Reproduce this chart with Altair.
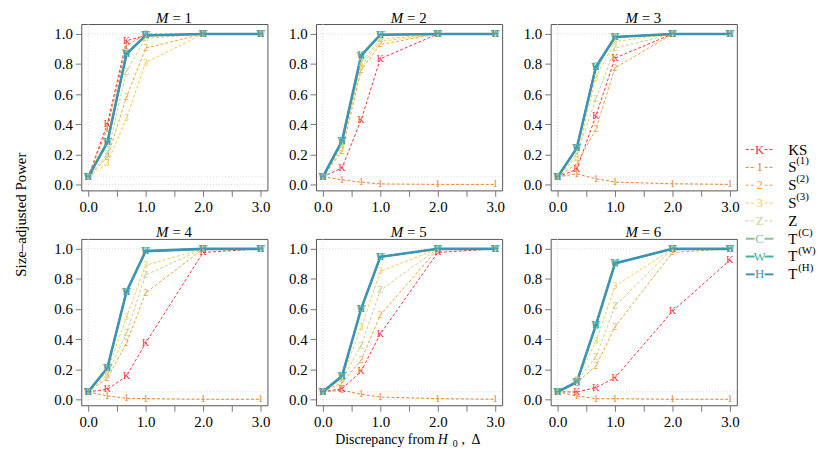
import altair as alt
import pandas as pd

FONT = "Liberation Serif, Times New Roman, Times, serif"

DELTA = [0.0, 1 / 3, 2 / 3, 1.0, 2.0, 3.0]
SERIES = ["KS", "S1", "S2", "S3", "Z", "TC", "TW", "TH"]
LETTERS = ["K", "1", "2", "3", "Z", "C", "W", "H"]
COLORS = ["#F8333C", "#E8822A", "#F0A53A", "#F5CB4A", "#C9CE8F", "#86C495", "#45B29D", "#3C95B0"]
DASHED = [True, True, True, True, True, False, False, False]
WIDTHS = [1.0, 1.0, 1.0, 1.0, 1.0, 1.6, 1.6, 2.6]
LEG_BASE = ["KS", "S", "S", "S", "Z", "T", "T", "T"]
LEG_SUP = ["", "(1)", "(2)", "(3)", "", "(C)", "(W)", "(H)"]
X_TICKS = [0.0, 0.5, 1.0, 1.5, 2.0, 2.5, 3.0]
Y_TICKS = [0.0, 0.2, 0.4, 0.6, 0.8, 1.0]
REF_Y = [0.0, 0.05, 1.0]
REF_X = [0.0]
PANELS = [1, 2, 3, 4, 5, 6]

POWER_M1 = {
    "KS": [0.05, 0.40, 0.955, 0.99, 1.0, 1.0],
    "S1": [0.05, 0.37, 0.92, 1.0, 1.0, 1.0],
    "S2": [0.05, 0.18, 0.58, 0.905, 1.0, 1.0],
    "S3": [0.05, 0.14, 0.44, 0.81, 1.0, 1.0],
    "Z": [0.05, 0.20, 0.75, 0.97, 1.0, 1.0],
    "TC": [0.05, 0.27, 0.87, 0.99, 1.0, 1.0],
    "TW": [0.05, 0.28, 0.87, 0.99, 1.0, 1.0],
    "TH": [0.05, 0.28, 0.866, 0.99, 1.0, 1.0],
}
POWER_M2 = {
    "KS": [0.05, 0.11, 0.43, 0.835, 1.0, 1.0],
    "S1": [0.05, 0.03, 0.015, 0.003, 0.0, 0.0],
    "S2": [0.05, 0.22, 0.76, 0.93, 1.0, 1.0],
    "S3": [0.05, 0.24, 0.79, 0.95, 1.0, 1.0],
    "Z": [0.05, 0.26, 0.81, 0.965, 1.0, 1.0],
    "TC": [0.05, 0.28, 0.855, 0.995, 1.0, 1.0],
    "TW": [0.05, 0.29, 0.855, 0.995, 1.0, 1.0],
    "TH": [0.05, 0.29, 0.857, 0.995, 1.0, 1.0],
}
POWER_M3 = {
    "KS": [0.05, 0.10, 0.455, 0.84, 1.0, 1.0],
    "S1": [0.05, 0.07, 0.037, 0.015, 0.004, 0.0],
    "S2": [0.05, 0.136, 0.367, 0.774, 1.0, 1.0],
    "S3": [0.05, 0.18, 0.71, 0.95, 1.0, 1.0],
    "Z": [0.05, 0.20, 0.565, 0.905, 1.0, 1.0],
    "TC": [0.05, 0.24, 0.79, 0.98, 1.0, 1.0],
    "TW": [0.05, 0.24, 0.78, 0.98, 1.0, 1.0],
    "TH": [0.05, 0.24, 0.778, 0.98, 1.0, 1.0],
}
POWER_M4 = {
    "KS": [0.05, 0.066, 0.154, 0.373, 0.976, 1.0],
    "S1": [0.05, 0.022, 0.007, 0.004, 0.0, 0.0],
    "S2": [0.05, 0.14, 0.373, 0.706, 1.0, 1.0],
    "S3": [0.05, 0.186, 0.548, 0.89, 1.0, 1.0],
    "Z": [0.05, 0.164, 0.44, 0.825, 1.0, 1.0],
    "TC": [0.05, 0.205, 0.715, 0.985, 1.0, 1.0],
    "TW": [0.05, 0.208, 0.715, 0.985, 1.0, 1.0],
    "TH": [0.05, 0.208, 0.715, 0.985, 1.0, 1.0],
}
POWER_M5 = {
    "KS": [0.05, 0.07, 0.186, 0.434, 0.976, 1.0],
    "S1": [0.05, 0.06, 0.033, 0.015, 0.004, 0.0],
    "S2": [0.05, 0.11, 0.26, 0.56, 1.0, 1.0],
    "S3": [0.05, 0.143, 0.478, 0.85, 1.0, 1.0],
    "Z": [0.05, 0.132, 0.355, 0.724, 1.0, 1.0],
    "TC": [0.05, 0.15, 0.60, 0.945, 1.0, 1.0],
    "TW": [0.05, 0.154, 0.603, 0.947, 1.0, 1.0],
    "TH": [0.05, 0.154, 0.603, 0.947, 1.0, 1.0],
}
POWER_M6 = {
    "KS": [0.05, 0.048, 0.077, 0.143, 0.585, 0.925],
    "S1": [0.05, 0.022, 0.004, 0.004, 0.0, 0.0],
    "S2": [0.05, 0.11, 0.22, 0.482, 0.976, 1.0],
    "S3": [0.05, 0.127, 0.384, 0.752, 1.0, 1.0],
    "Z": [0.05, 0.12, 0.28, 0.62, 1.0, 1.0],
    "TC": [0.05, 0.11, 0.49, 0.90, 1.0, 1.0],
    "TW": [0.05, 0.114, 0.493, 0.904, 1.0, 1.0],
    "TH": [0.05, 0.114, 0.493, 0.904, 1.0, 1.0],
}
POWER = {1: POWER_M1, 2: POWER_M2, 3: POWER_M3, 4: POWER_M4, 5: POWER_M5, 6: POWER_M6}

rows = []
for m in PANELS:
    for s, letter in zip(SERIES, LETTERS):
        for xv, yv in zip(DELTA, POWER[m][s]):
            rows.append({"M": m, "series": s, "letter": letter, "x": xv, "y": yv})
df = pd.DataFrame(rows)

W, H = 188, 168
xs = alt.Scale(domain=[-0.12, 3.12], nice=False, zero=False)
ys = alt.Scale(domain=[-0.04, 1.066], nice=False, zero=False)
xaxis = alt.Axis(values=X_TICKS, title=None,
                 labelExpr="datum.value % 1 == 0 ? format(datum.value, '.1f') : ''")
yaxis = alt.Axis(values=Y_TICKS, format=".1f", title=None)


def xenc(f):
    return alt.X(f, type="quantitative", scale=xs, axis=xaxis)


def yenc(f):
    return alt.Y(f, type="quantitative", scale=ys, axis=yaxis)


def text_layer(txt, x, y, size=15, style="normal", align="left", angle=0):
    mk = dict(font=FONT, fontSize=size, align=align, baseline="alphabetic", color="black")
    if style != "normal":
        mk["fontStyle"] = style
    if angle:
        mk["angle"] = angle
        mk["baseline"] = "middle"
        mk["align"] = "center"
    return alt.Chart(pd.DataFrame({"t": [txt]})).mark_text(**mk).encode(
        x=alt.value(x), y=alt.value(y), text="t:N")


def legend_layer():
    leg = pd.DataFrame({"series": SERIES, "letter": LETTERS, "base": LEG_BASE,
                        "sup": LEG_SUP, "idx": list(range(len(SERIES)))})
    ly = alt.Y("idx:Q", scale=alt.Scale(domain=[-7.04, 2.29], reverse=True, nice=False, zero=False),
               axis=None)
    layers = []
    for s, c, dsh, w in zip(SERIES, COLORS, DASHED, WIDTHS):
        kw = dict(color=c, strokeWidth=(1.0 if dsh else 2.0))
        if dsh:
            kw["strokeDash"] = [3, 2]
        base = alt.Chart(leg).transform_filter(alt.datum.series == s)
        layers.append(base.mark_rule(**kw).encode(x=alt.value(197), x2=alt.value(206), y=ly))
        layers.append(base.mark_rule(**kw).encode(x=alt.value(216), x2=alt.value(225), y=ly))
        layers.append(base.mark_text(color=c, font=FONT, fontSize=13, baseline="middle", align="center")
                      .encode(x=alt.value(211), y=ly, text="letter:N"))
    layers.append(alt.Chart(leg).mark_text(font=FONT, fontSize=15, baseline="middle", align="left",
                                           color="black")
                  .encode(x=alt.value(240), y=ly, text="base:N"))
    layers.append(alt.Chart(leg).transform_filter(alt.datum.base == "S")
                  .mark_text(font=FONT, fontSize=11, baseline="middle", align="left", dy=-6, color="black")
                  .encode(x=alt.value(248), y=ly, text="sup:N"))
    layers.append(alt.Chart(leg).transform_filter(alt.datum.base == "T")
                  .mark_text(font=FONT, fontSize=11, baseline="middle", align="left", dy=-6, color="black")
                  .encode(x=alt.value(250), y=ly, text="sup:N"))
    return alt.layer(*layers)


def panel(m):
    dm = df[df.M == m]
    refstyle = dict(color="#cccccc", strokeDash=[1, 2], strokeWidth=0.8)
    layers = [
        alt.Chart(pd.DataFrame({"r": REF_Y})).mark_rule(**refstyle).encode(y=yenc("r")),
        alt.Chart(pd.DataFrame({"r": REF_X})).mark_rule(**refstyle).encode(x=xenc("r")),
    ]
    for s, c, dsh, w in zip(SERIES, COLORS, DASHED, WIDTHS):
        kw = dict(color=c, strokeWidth=w)
        if dsh:
            kw["strokeDash"] = [3, 2]
        layers.append(alt.Chart(dm).transform_filter(alt.datum.series == s)
                      .mark_line(**kw).encode(x=xenc("x"), y=yenc("y")))
    for s, c in zip(SERIES, COLORS):
        layers.append(alt.Chart(dm).transform_filter(alt.datum.series == s)
                      .mark_text(color=c, font=FONT, fontSize=10, baseline="middle", align="center")
                      .encode(x=xenc("x"), y=yenc("y"), text="letter:N"))
    layers.append(text_layer("M", 88, -1.5, style="italic", align="right"))
    layers.append(text_layer(f"= {m}", 92, -1.5))
    if m == 1:
        layers.append(text_layer("Size\u2013adjusted Power", -61, 192.5, size=15, angle=270))
    if m == 5:
        layers.append(text_layer("Discrepancy from", 120, H + 39, size=14, align="right"))
        layers.append(text_layer("H", 123, H + 39, size=14, style="italic"))
        layers.append(text_layer("0", 138, H + 42, size=10))
        layers.append(text_layer(",", 147, H + 39, size=14))
        layers.append(text_layer("\u0394", 157, H + 39, size=14))
    main = alt.layer(*layers)
    if m == 3:
        return alt.layer(main, legend_layer()).resolve_scale(y="independent").properties(width=W, height=H)
    return main.properties(width=W, height=H)


chart = alt.concat(*[panel(m) for m in PANELS], columns=3, spacing=49, bounds="flush").properties(
    padding={"left": 5, "top": 0, "right": 5, "bottom": 0}
).configure_view(stroke="#555555", strokeWidth=1).configure_axis(
    labelFont=FONT, labelFontSize=15, labelColor="black", tickColor="#777777", tickSize=6,
    domain=False, grid=False, labelPadding=3
)

chart.save("out.html", embed_options={"renderer": "svg", "actions": False})
